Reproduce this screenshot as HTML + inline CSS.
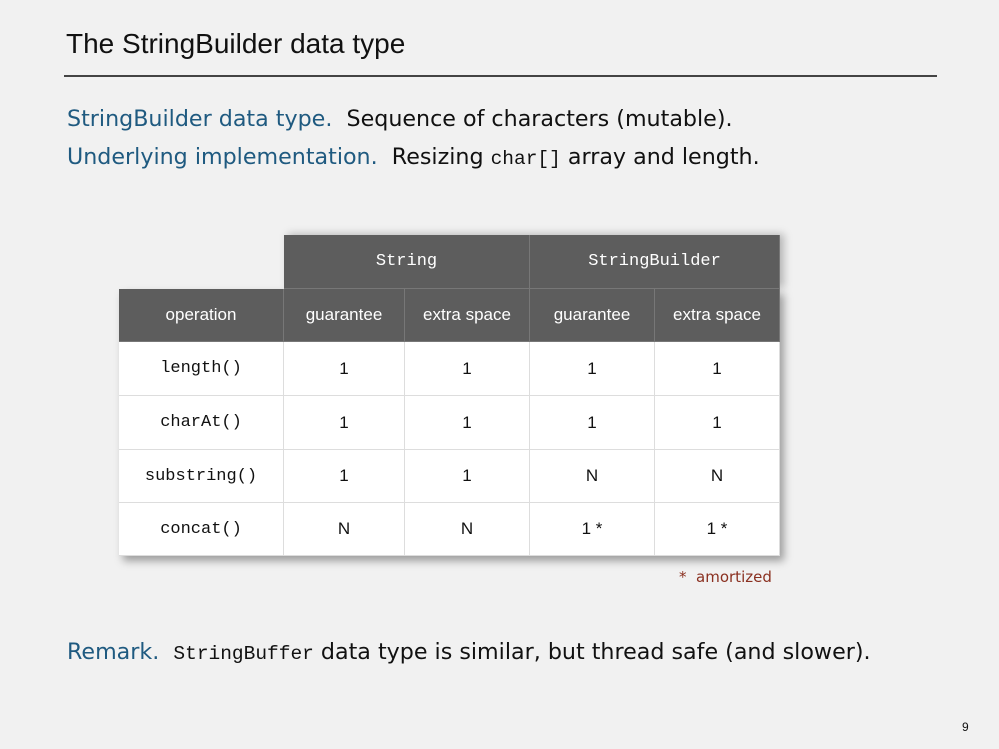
<!DOCTYPE html>
<html><head><meta charset="utf-8"><style>
body{margin:0;width:999px;height:749px;background:#f1f1f1;position:relative;overflow:hidden;font-family:"Liberation Sans",sans-serif}
.a{position:absolute;white-space:nowrap}
.t{left:66px;top:28px;font-size:28px;color:#111}
.hr{left:64px;top:75px;width:873px;height:2px;background:#444}
.b{font-size:22.2px;color:#111;left:67px;font-family:"DejaVu Sans",sans-serif}
.bl{color:#1f5a80}
.m{font-family:"Liberation Mono",monospace;font-size:19.5px}
.c{position:absolute;display:flex;align-items:center;justify-content:center;font-size:17px;box-sizing:border-box}
.h{background:#5d5d5d;color:#fff;border-right:1px solid #777;border-bottom:1px solid #777}
.w{background:#fff;color:#111;border-right:1px solid #ddd;border-bottom:1px solid #ddd}
.mo{font-family:"Liberation Mono",monospace}
</style></head><body>
<div class="a t">The StringBuilder data type</div>
<div class="a hr"></div>
<div class="a b" style="top:106px"><span class="bl">StringBuilder data type.</span>&nbsp; Sequence of characters (mutable).</div>
<div class="a b" style="top:144px"><span class="bl">Underlying implementation.</span>&nbsp; Resizing <span class="m">char[]</span> array and length.</div>
<div class="a" style="left:119px;top:289px;width:661px;height:267px;box-shadow:4px 5px 8px rgba(0,0,0,.35)"></div>
<div class="a" style="left:284px;top:235px;width:496px;height:54px;box-shadow:4px -1px 8px rgba(0,0,0,.25)"></div>
<div class="c h mo" style="left:284px;top:235px;width:246px;height:54px">String</div>
<div class="c h mo" style="left:530px;top:235px;width:250px;height:54px">StringBuilder</div>
<div id="g"></div>
<script>
var xs=[119,284,405,530,655,780],ys=[289,342,396,450,503,556];
var d=[["operation","guarantee","extra space","guarantee","extra space"],["length()","1","1","1","1"],["charAt()","1","1","1","1"],["substring()","1","1","N","N"],["concat()","N","N","1 *","1 *"]];
var h="";for(var r=0;r<5;r++)for(var c=0;c<5;c++){var cl=r==0?"h":"w";if(r>0&&c==0)cl+=" mo";h+='<div class="c '+cl+'" style="left:'+xs[c]+'px;top:'+ys[r]+'px;width:'+(xs[c+1]-xs[c])+'px;height:'+(ys[r+1]-ys[r])+'px">'+d[r][c]+'</div>';}
document.getElementById("g").innerHTML=h;
</script>
<div class="a" style="left:679px;top:568px;font-size:15px;color:#8a3020;font-family:'DejaVu Sans',sans-serif">*&nbsp; amortized</div>
<div class="a b" style="top:639px"><span class="bl">Remark.</span>&nbsp; <span class="m">StringBuffer</span> data type is similar, but thread safe (and slower).</div>
<div class="a" style="left:962px;top:720px;font-size:12px;color:#111">9</div>
</body></html>
